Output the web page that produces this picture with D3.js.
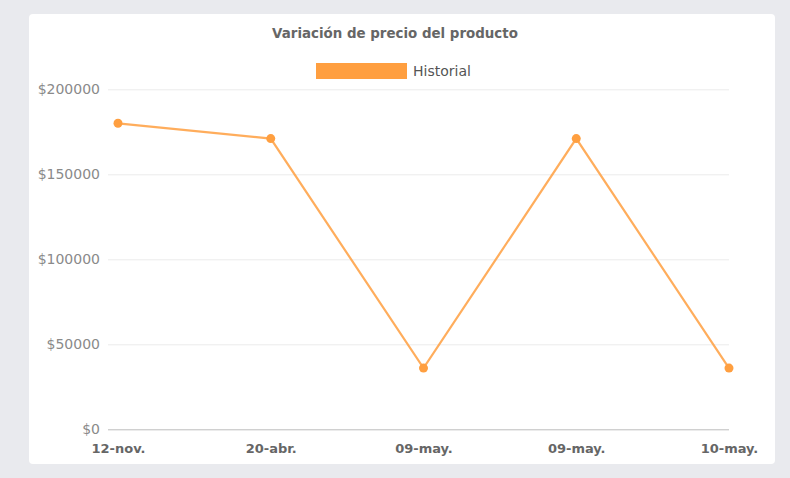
<!DOCTYPE html>
<html>
<head>
<meta charset="utf-8">
<script src="https://cdn.jsdelivr.net/npm/d3@7"></script>
<style>
	html, body { margin: 0; padding: 0; background: #e9eaee; }
	svg { display: block; }
	text { font-family: "DejaVu Sans", sans-serif; }
</style>
</head>
<body>
<svg id="chart"></svg>
<script>
// Price history line chart
var fechas = ['12-nov.', '20-abr.', '09-may.', '09-may.', '10-may.'];
var precios = [180000, 171000, 36000, 171000, 36000];
var yTicks = [0, 50000, 100000, 150000, 200000];
var titulo = 'Variación de precio del producto';
var serie = 'Historial';

var W = 790, H = 478;
var naranja = '#ff9f40';

var svg = d3.select('#chart')
	.attr('width', W)
	.attr('height', H);

// white card
svg.append('rect')
	.attr('x', 29).attr('y', 14)
	.attr('width', 746).attr('height', 450)
	.attr('rx', 4)
	.attr('fill', '#fff');

// index based so repeated labels stay separate points
var x = d3.scalePoint()
	.domain(d3.range(fechas.length))
	.range([118, 729]);

var y = d3.scaleLinear()
	.domain([0, 200000])
	.range([429.3, 89.3]);

// grid + y labels
var yAxis = svg.append('g')
	.attr('transform', 'translate(108,0)')
	.call(d3.axisLeft(y).tickValues(yTicks).tickSize(0).tickPadding(8)
		.tickFormat(function(d) { return '$' + d; }));
yAxis.select('.domain').remove();
yAxis.selectAll('text')
	.attr('fill', '#8a8a8a')
	.style('font-size', '14px');
yAxis.selectAll('.tick').append('line')
	.attr('x1', 0).attr('x2', 729 - 108)
	.attr('stroke', function(d) { return d === 0 ? '#bdbdbd' : '#ebebeb'; })
	.attr('stroke-width', 1);

// x labels
var xAxis = svg.append('g')
	.attr('transform', 'translate(0,429.3)')
	.call(d3.axisBottom(x).tickSize(0).tickPadding(14)
		.tickFormat(function(i) { return fechas[i]; }));
xAxis.select('.domain').remove();
xAxis.selectAll('text')
	.attr('fill', '#666')
	.style('font-size', '13px')
	.style('font-weight', 'bold');

// line
var line = d3.line()
	.x(function(d, i) { return x(i); })
	.y(function(d) { return y(d); });

svg.append('path')
	.datum(precios)
	.attr('d', line)
	.attr('fill', 'none')
	.attr('stroke', naranja)
	.attr('stroke-opacity', 0.85)
	.attr('stroke-width', 2.2);

svg.selectAll('.punto')
	.data(precios)
	.join('circle')
		.attr('class', 'punto')
		.attr('cx', function(d, i) { return x(i); })
		.attr('cy', function(d) { return y(d); })
		.attr('r', 4.5)
		.attr('fill', naranja);

// title
svg.append('text')
	.attr('x', 395).attr('y', 33)
	.attr('text-anchor', 'middle')
	.attr('dominant-baseline', 'central')
	.attr('fill', '#666')
	.style('font-size', '13.4px')
	.style('font-weight', 'bold')
	.text(titulo);

// legend
svg.append('rect')
	.attr('x', 316).attr('y', 63)
	.attr('width', 91).attr('height', 16)
	.attr('fill', naranja);
svg.append('text')
	.attr('x', 413).attr('y', 71)
	.attr('dominant-baseline', 'central')
	.attr('fill', '#555')
	.style('font-size', '14px')
	.text(serie);
</script>
</body>
</html>
